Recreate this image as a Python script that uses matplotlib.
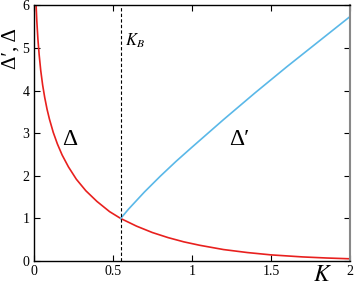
import matplotlib
matplotlib.use("Agg")
import matplotlib.pyplot as plt

# Δ (red)
k_delta = [0.008, 0.012, 0.016, 0.02, 0.027, 0.035, 0.045, 0.057, 0.07, 0.085,
           0.1, 0.124, 0.15, 0.18, 0.22, 0.27, 0.33, 0.4, 0.48, 0.55,
           0.65, 0.75, 0.85, 0.95, 1.05, 1.2, 1.35, 1.5, 1.7, 1.85, 2.0]
delta = [6.97, 6.38, 5.97, 5.64, 5.21, 4.84, 4.47, 4.13, 3.84, 3.56,
         3.33, 3.02, 2.75, 2.49, 2.21, 1.92, 1.65, 1.40, 1.16, 1.00,
         0.82, 0.67, 0.55, 0.45, 0.37, 0.27, 0.20, 0.145, 0.097, 0.072, 0.053]

# Δ' (blue), starts at K_B
k_dprime = [0.55, 0.6, 0.7, 0.8, 0.9, 1.0, 1.2, 1.4, 1.6, 1.8, 2.0]
dprime = [1.0, 1.22, 1.62, 1.99, 2.34, 2.67, 3.32, 3.95, 4.56, 5.15, 5.74]

k_b = 0.55

plt.rcParams["font.family"] = ["Liberation Serif", "DejaVu Serif"]
plt.rcParams["mathtext.fontset"] = "stix"

fig = plt.figure(figsize=(3.54, 2.85), dpi=100)
ax = fig.add_axes([0.095, 0.084, 0.894, 0.897])

ax.plot(k_delta, delta, color="#e8201e", lw=1.2)
ax.plot(k_dprime, dprime, color="#5ab8e8", lw=1.2)
ax.axvline(k_b, color="black", lw=0.8, ls=(0, (3, 2)))

ax.set_xlim(0, 2)
ax.set_ylim(0, 6)
ax.set_xticks([0, 0.5, 1, 1.5, 2])
ax.set_xticklabels(["0", "0.5", "1", "1.5", "2"])
ax.set_yticks([0, 1, 2, 3, 4, 5, 6])
ax.tick_params(direction="in", length=4, width=0.8, top=True, right=True,
               labelsize=10, pad=3)
for s in ax.spines.values():
    s.set_linewidth(1.0)
ax.spines["right"].set_color("#888888")
ax.spines["right"].set_linewidth(1.5)

ax.text(0.23, 2.85, "Δ", fontsize=17, ha="center", va="center")
ax.text(1.3, 2.85, "Δ′", fontsize=17, ha="center", va="center")
ax.text(0.575, 5.16, r"$K_B$", fontsize=12, ha="left", va="center")

fig.text(0.03, 0.83, "Δ′, Δ", fontsize=15, rotation=90,
         ha="center", va="center")
fig.text(0.91, 0.035, r"$K$", fontsize=17, ha="center", va="center")

fig.savefig("out.png", dpi=100)
